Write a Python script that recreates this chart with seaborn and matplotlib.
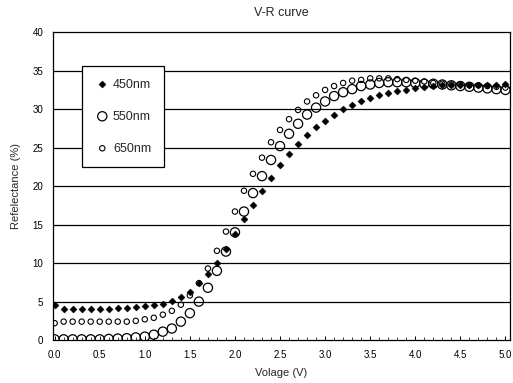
import numpy as np
import pandas as pd
import matplotlib
matplotlib.use("Agg")
import matplotlib.pyplot as plt
import seaborn as sns
from matplotlib.ticker import MultipleLocator

voltage = [round(0.1 * i, 1) for i in range(51)]

r450 = [4.5, 4.1, 4.1, 4.1, 4.1, 4.1, 4.1, 4.2, 4.2, 4.3,
        4.4, 4.5, 4.7, 5.1, 5.6, 6.3, 7.4, 8.6, 10.0, 11.8,
        13.8, 15.7, 17.5, 19.4, 21.1, 22.8, 24.2, 25.5, 26.6, 27.7,
        28.5, 29.3, 30.0, 30.6, 31.1, 31.5, 31.8, 32.1, 32.4, 32.5,
        32.7, 32.9, 33.0, 33.1, 33.1, 33.1, 33.2, 33.2, 33.2, 33.2,
        33.3]

r550 = [0.1, 0.1, 0.1, 0.1, 0.1, 0.1, 0.15, 0.2, 0.25, 0.35,
        0.45, 0.7, 1.1, 1.5, 2.4, 3.5, 5.0, 6.8, 9.0, 11.5,
        14.0, 16.7, 19.1, 21.3, 23.4, 25.2, 26.8, 28.1, 29.3, 30.2,
        31.0, 31.7, 32.2, 32.6, 33.0, 33.2, 33.4, 33.5, 33.5, 33.5,
        33.4, 33.3, 33.3, 33.2, 33.1, 33.0, 32.9, 32.8, 32.7, 32.6,
        32.5]

r650 = [2.2, 2.4, 2.4, 2.4, 2.4, 2.4, 2.4, 2.4, 2.4, 2.5,
        2.7, 2.9, 3.3, 3.8, 4.6, 5.8, 7.4, 9.3, 11.6, 14.1,
        16.7, 19.4, 21.6, 23.7, 25.7, 27.3, 28.7, 29.9, 31.0, 31.8,
        32.5, 33.0, 33.4, 33.7, 33.8, 34.0, 34.0, 34.0, 33.9, 33.8,
        33.7, 33.6, 33.4, 33.3, 33.2, 33.2, 33.1, 33.1, 33.0, 32.9,
        32.8]

series_labels = ["450nm", "550nm", "650nm"]
y_ticks = [0, 5, 10, 15, 20, 25, 30, 35, 40]
x_ticks = [0.0, 0.5, 1.0, 1.5, 2.0, 2.5, 3.0, 3.5, 4.0, 4.5, 5.0]

sns.set_style("white")
plt.rcParams["font.family"] = ["Liberation Sans", "DejaVu Sans"]

fig = plt.figure(figsize=(5.13, 3.83), dpi=100)
ax = fig.add_axes([0.103, 0.112, 0.891, 0.804])

df = pd.DataFrame({"V": voltage, "r450": r450, "r550": r550, "r650": r650})

sns.scatterplot(data=df, x="V", y="r550", ax=ax, marker="o", s=44,
                facecolors="none", edgecolor="black", linewidth=0.9,
                label=series_labels[1], zorder=3)
sns.scatterplot(data=df, x="V", y="r650", ax=ax, marker="o", s=15,
                facecolors="none", edgecolor="black", linewidth=0.8,
                label=series_labels[2], zorder=3)
sns.scatterplot(data=df, x="V", y="r450", ax=ax, marker="D", s=13,
                color="black", edgecolor="black", linewidth=0.3,
                label=series_labels[0], zorder=4)

ax.set_xlim(-0.02, 5.05)
ax.set_ylim(0, 40)
ax.set_xticks(x_ticks)
ax.set_xticklabels([f"{t:.1f}" for t in x_ticks])
ax.set_yticks(y_ticks)
ax.xaxis.set_minor_locator(MultipleLocator(0.1))
ax.tick_params(axis="both", which="major", direction="in", length=3,
               width=0.7, labelsize=7, pad=7, colors="black")
ax.tick_params(axis="x", which="minor", direction="in", length=2,
               width=0.6, bottom=True)
ax.tick_params(axis="x", which="major", bottom=True)
ax.tick_params(axis="y", which="major", left=True)

for yv in y_ticks[1:-1]:
    ax.axhline(yv, color="black", linewidth=0.9, zorder=1)

for sp in ax.spines.values():
    sp.set_color("black")
    sp.set_linewidth(0.9)

ax.set_xlabel("Volage (V)", fontsize=8, labelpad=6)
ax.set_ylabel("Refelectance (%)", fontsize=8, labelpad=8)
ax.set_title("V-R curve", fontsize=9, pad=12)

h, l = ax.get_legend_handles_labels()
order = [l.index(s) for s in series_labels]
leg = ax.legend([h[i] for i in order], [l[i] for i in order],
                loc="upper left", bbox_to_anchor=(0.063, 0.89),
                borderaxespad=0, frameon=True, fancybox=False,
                framealpha=1, edgecolor="black", fontsize=9,
                labelspacing=1.6, handletextpad=0.2, borderpad=1.0,
                handlelength=1.3)
leg.get_frame().set_linewidth(0.9)
leg.set_zorder(10)

fig.savefig("out.png", dpi=100)
